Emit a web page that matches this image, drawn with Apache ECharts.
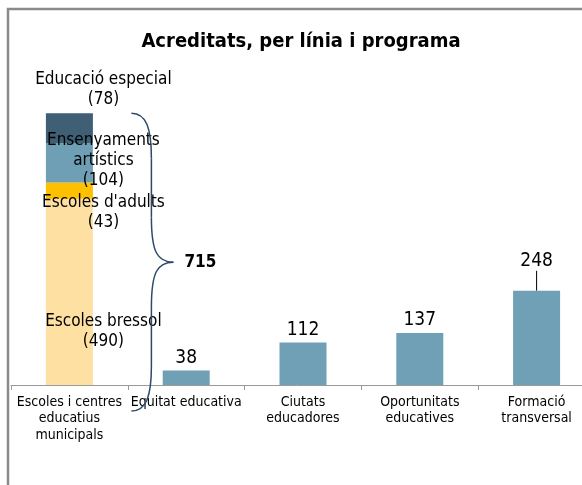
<!DOCTYPE html>
<html>
<head>
<meta charset="utf-8">
<script src="https://cdn.jsdelivr.net/npm/echarts@6/dist/echarts.min.js"></script>
<style>
  html, body { margin: 0; padding: 0; background: #fff; }
  #chart { width: 582px; height: 485px; }
</style>
</head>
<body>
<div id="chart"></div>
<script>
const categories = ['Escoles i centres\neducatius\nmunicipals', 'Equitat educativa', 'Ciutats\neducadores', 'Oportunitats\neducatives', 'Formació\ntransversal']
// parts of the first column, bottom to top
const stackNames = ['Escoles bressol', "Escoles d'adults", 'Ensenyaments\nartístics', 'Educació especial']
const stackValues = [490, 43, 104, 78]
// the other programmes
const programValues = [38, 112, 137, 248]

const font = "'DejaVu Sans Condensed', 'DejaVu Sans', sans-serif"
const stackColors = ['#FFE0A3', '#FFC000', '#6E9FB5', '#3F6074']
const labelOffsets = [[34, 40], [34, 22], [34, -2], [34, -39]]
const total = stackValues.reduce((a, b) => a + b, 0)

const chart = echarts.init(document.getElementById('chart'))

const stackSeries = stackNames.map((name, i) => ({
  name: name,
  type: 'bar',
  stack: 'total',
  barWidth: 47,
  itemStyle: { color: stackColors[i] },
  label: {
    show: true,
    position: 'inside',
    offset: labelOffsets[i],
    formatter: p => name + '\n(' + p.value + ')',
    color: '#000',
    fontFamily: font,
    fontSize: 17,
    lineHeight: 20
  },
  data: categories.map((c, j) => (j === 0 ? stackValues[i] : '-'))
}))

// only the tallest bar gets its label lifted with a leader line
const programData = programValues.map((v, i) => (
  i === programValues.length - 1
    ? { value: v, labelLine: { show: true } }
    : { value: v, labelLine: { show: false } }
))

const option = {
  animation: false,
  title: {
    text: 'Acreditats, per línia i programa',
    left: 296,
    textAlign: 'center',
    top: 27,
    textStyle: { fontFamily: font, fontSize: 20, fontWeight: 'bold', color: '#000' }
  },
  grid: { left: 11, top: 81, width: 584, height: 304, outerBoundsMode: 'none' },
  xAxis: {
    type: 'category',
    data: categories,
    axisLine: { lineStyle: { color: '#9a9a9a', width: 1 } },
    axisTick: { show: true, length: 5, lineStyle: { color: '#9a9a9a' } },
    axisLabel: {
      interval: 0,
      margin: 9,
      color: '#000',
      fontFamily: font,
      fontSize: 14,
      lineHeight: 16.5
    }
  },
  yAxis: {
    type: 'value',
    min: 0,
    max: 800,
    show: false,
    splitLine: { show: false }
  },
  series: stackSeries.concat([{
    name: 'Programes',
    type: 'bar',
    stack: 'total',
    barWidth: 47,
    itemStyle: { color: '#70A0B5' },
    label: {
      show: true,
      position: 'top',
      distance: 3,
      color: '#000',
      fontFamily: font,
      fontSize: 19
    },
    labelLine: { lineStyle: { color: '#000', width: 1 } },
    labelLayout: function(p) {
      return p.dataIndex === 4 ? { dy: -17 } : {}
    },
    data: ['-'].concat(programData)
  }])
}

chart.setOption(option)

// brace and total for the first column, placed from the axis scale
const topPt = chart.convertToPixel({ gridIndex: 0 }, [0, total])
const basePt = chart.convertToPixel({ gridIndex: 0 }, [0, 0])
const y0 = topPt[1]
const y1 = basePt[1] + 26
const mid = (y0 + y1) / 2
const xl = topPt[0] + 62
const xb = xl + 20
const xt = xl + 42
const braceStyle = { fill: 'none', stroke: '#2E4A6B', lineWidth: 1.5 }

function curve(x1, y1_, cx1, cy1, cx2, cy2, x2, y2) {
  return {
    type: 'bezierCurve',
    shape: { x1: x1, y1: y1_, cpx1: cx1, cpy1: cy1, cpx2: cx2, cpy2: cy2, x2: x2, y2: y2 },
    style: braceStyle,
    z: 10
  }
}
function seg(x1, y1_, x2, y2) {
  return { type: 'line', shape: { x1: x1, y1: y1_, x2: x2, y2: y2 }, style: braceStyle, z: 10 }
}

chart.setOption({
  graphic: [
    {
      type: 'rect',
      shape: { x: 8, y: 9, width: 700, height: 600 },
      style: { fill: 'none', stroke: '#8a8a8a', lineWidth: 2.5 },
      silent: true,
      z: 0
    },
    curve(xl, y0, xl + 15, y0, xb, y0 + 15, xb, y0 + 45),
    seg(xb, y0 + 45, xb, mid - 45),
    curve(xb, mid - 45, xb, mid - 10, xb + 6, mid, xt, mid),
    curve(xt, mid, xb + 6, mid, xb, mid + 10, xb, mid + 45),
    seg(xb, mid + 45, xb, y1 - 45),
    curve(xb, y1 - 45, xb, y1 - 15, xl + 15, y1, xl, y1),
    {
      type: 'text',
      x: xt + 11,
      y: mid,
      style: {
        text: String(total),
        fontFamily: font,
        fontSize: 17,
        fontWeight: 'bold',
        fill: '#000',
        verticalAlign: 'middle'
      },
      z: 10
    }
  ]
})

window.onresize = function() {
  chart.resize()
}
</script>
</body>
</html>
